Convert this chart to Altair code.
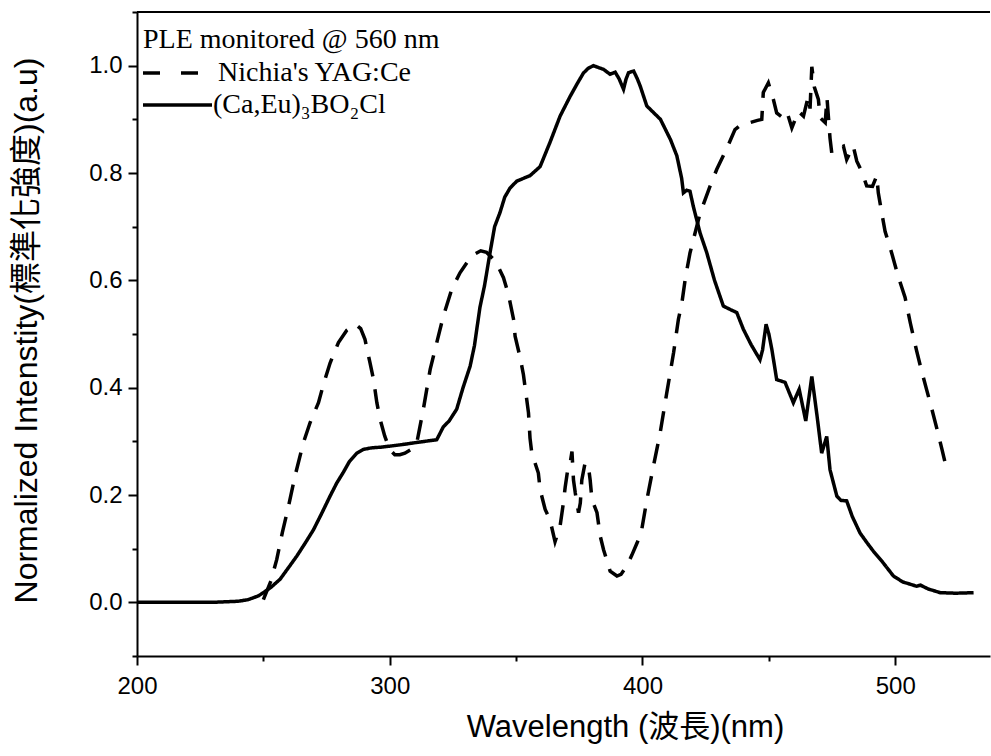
import altair as alt
import pandas as pd

# ---- data ----
series_names = ["Nichia's YAG:Ce", "(Ca,Eu)₃BO₂Cl"]

caeu_nm = [200, 210, 220, 230, 240, 244, 248, 250, 253, 256.6, 260, 263.2, 266.5, 269.8, 273,
           276.4, 279, 281.6, 284, 287, 289.6, 293, 296.2, 300, 305, 309.3, 314, 318.6, 321.2,
           323.5, 326.5, 329, 331.8, 333.5, 335.7, 337.5, 339.7, 341.5, 343.6, 345.5, 347.6,
           350.3, 355.5, 359.5, 363.4, 367.4, 371.4, 374, 376.6, 378.5, 380.6, 384.6, 387.2,
           389.2, 390.8, 392.5, 393.5, 394.5, 396.5, 398, 399.1, 401.7, 404.5, 407.1, 411.1,
           413.6, 415.5, 416.2, 417.5, 418.8, 420.1, 422.8, 425.4, 428.5, 432.0, 435, 437.3,
           439.9, 443, 446.5, 447.5, 448.9, 450, 451.2, 453.1, 456.4, 459.7, 462.0, 464.6,
           467.0, 469, 470.9, 472.9, 474.2, 476.9, 478.5, 480.8, 483, 486.1, 489, 491.4, 495,
           499.3, 503, 508.5, 510, 513, 517.8, 524, 531]
caeu_int = [0.0, 0.0, 0.0, 0.0, 0.002, 0.005, 0.012, 0.018, 0.028, 0.043, 0.065, 0.086, 0.11,
            0.135, 0.165, 0.198, 0.222, 0.242, 0.262, 0.278, 0.285, 0.288, 0.289, 0.291, 0.294,
            0.297, 0.300, 0.303, 0.327, 0.338, 0.36, 0.40, 0.44, 0.478, 0.55, 0.59, 0.652, 0.70,
            0.726, 0.755, 0.772, 0.785, 0.795, 0.812, 0.857, 0.906, 0.943, 0.965, 0.986, 0.995,
            1.0, 0.993, 0.984, 0.988, 0.975, 0.956, 0.975, 0.987, 0.99, 0.975, 0.962, 0.925,
            0.912, 0.90, 0.862, 0.832, 0.79, 0.763, 0.768, 0.766, 0.738, 0.688, 0.652, 0.60,
            0.552, 0.545, 0.54, 0.509, 0.48, 0.452, 0.47, 0.518, 0.50, 0.471, 0.415, 0.41,
            0.372, 0.397, 0.338, 0.421, 0.35, 0.278, 0.309, 0.247, 0.198, 0.19, 0.189, 0.16,
            0.129, 0.11, 0.095, 0.075, 0.049, 0.038, 0.03, 0.032, 0.025, 0.018, 0.017, 0.018]

yag_nm = [250, 253, 255.3, 257.5, 260, 262.5, 265.8, 268.5, 271.8, 274, 276.4, 279.7, 283,
          286.5, 288.5, 290.2, 292.2, 293.6, 294.9, 296.2, 298, 300, 302, 304, 306, 308.5,
          310.7, 313.3, 316, 318.6, 321.2, 324.5, 327.8, 331, 334, 336, 338.3, 341, 343, 345,
          347, 349, 349.6, 351.6, 352.9, 354.2, 354.9, 355.5, 356.2, 358.8, 359.5, 361.5,
          363.4, 365.4, 367.4, 368.7, 369.4, 370.7, 371.4, 372.1, 372.7, 373.4, 374.7, 375.4,
          376.0, 377.3, 378.6, 379.3, 380.0, 382.0, 383.3, 384.6, 387.2, 389.9, 391.5, 393.8,
          395.8, 397.8, 399.5, 401.7, 404.3, 407.0, 409.6, 412.3, 414.2, 415.6, 417, 418.8,
          422.8, 426.7, 429.4, 433.4, 436.6, 439, 442.6, 445.5, 447.2, 447.8, 449.8, 451.8,
          453.1, 455, 457.1, 459.1, 461.7, 463.7, 465.6, 466.3, 467.0, 468, 469.6, 470.3,
          472.3, 473, 474.2, 474.9, 477, 479.5, 480.8, 483.4, 484.8, 487, 488.7, 491, 492.7,
          493.3, 494.7, 496.0, 498.6, 501, 503.9, 506, 508.5, 510.5, 512.5, 514.5, 516.4,
          518.5, 520.5]
yag_int = [0.005, 0.04, 0.08, 0.13, 0.18, 0.235, 0.297, 0.335, 0.372, 0.41, 0.446, 0.484,
           0.507, 0.518, 0.510, 0.49, 0.446, 0.415, 0.372, 0.341, 0.31, 0.285, 0.275, 0.275,
           0.278, 0.285, 0.297, 0.36, 0.434, 0.484, 0.533, 0.583, 0.614, 0.636, 0.65, 0.655,
           0.652, 0.64, 0.625, 0.605, 0.573, 0.527, 0.496, 0.456, 0.424, 0.378, 0.353, 0.306,
           0.278, 0.241, 0.21, 0.173, 0.154, 0.113, 0.142, 0.185, 0.214, 0.256, 0.26, 0.281,
           0.228, 0.204, 0.167, 0.185, 0.228, 0.26, 0.253, 0.228, 0.192, 0.167, 0.123, 0.098,
           0.058, 0.049, 0.052, 0.068, 0.088, 0.11, 0.13, 0.19, 0.253, 0.316, 0.39, 0.465,
           0.527, 0.558, 0.605, 0.651, 0.725, 0.775, 0.807, 0.846, 0.881, 0.89, 0.894, 0.898,
           0.90, 0.95, 0.968, 0.937, 0.912, 0.905, 0.915, 0.884, 0.915, 0.906, 0.943, 0.92,
           0.998, 0.96, 0.937, 0.903, 0.894, 0.94, 0.865, 0.837, 0.845, 0.85, 0.825, 0.85,
           0.822, 0.80, 0.776, 0.775, 0.795, 0.763, 0.725, 0.691, 0.651, 0.61, 0.568, 0.52,
           0.468, 0.43, 0.395, 0.36, 0.325, 0.285, 0.245]

x_ticks = [200, 250, 300, 350, 400, 450, 500]
y_ticks = [-0.1, 0.0, 0.1, 0.2, 0.3, 0.4, 0.5, 0.6, 0.7, 0.8, 0.9, 1.0, 1.1]
x_domain = [200, 537.5]
y_domain = [-0.1, 1.1]

x_title = "Wavelength (波長)(nm)"
y_title = "Normalized Intenstity(標準化強度)(a.u)"
legend_title = "PLE monitored @ 560 nm"

# ---- tables ----
df = pd.concat([
    pd.DataFrame({"nm": yag_nm, "intensity": yag_int, "sample": series_names[0]}),
    pd.DataFrame({"nm": caeu_nm, "intensity": caeu_int, "sample": series_names[1]}),
], ignore_index=True)
one = pd.DataFrame({"k": [0]})

SANS = "Liberation Sans, Arial, 'Noto Sans CJK TC', sans-serif"
SERIF = "Liberation Serif, 'Times New Roman', 'DejaVu Serif', serif"

W, H = 853, 644
DASH = [20, 13]

x_scale = alt.Scale(domain=x_domain, nice=False, zero=False)
y_scale = alt.Scale(domain=y_domain, nice=False, zero=False)

x_axis = alt.Axis(
    values=x_ticks, format="d", grid=False, labelFlush=False,
    labelExpr="datum.value % 100 == 0 ? datum.label : ''",
    tickSize={"condition": {"test": "datum.value % 100 == 0", "value": 9}, "value": 5},
    tickWidth=2, tickColor="black", domainWidth=2, domainColor="black",
    labelFont=SANS, labelFontSize=24, labelColor="black", labelPadding=9,
    title=x_title, titleFont=SANS, titleFontSize=31, titleFontWeight="normal",
    titleColor="black", titleX=488, titleY=71, titleAlign="center", titleBaseline="middle",
)
y_axis = alt.Axis(
    values=y_ticks, grid=False, labelFlush=False,
    labelExpr="round(datum.value*10) % 2 == 0 ? format(datum.value, '.1f') : ''",
    tickSize={"condition": {"test": "round(datum.value*10) % 2 == 0", "value": 9}, "value": 5},
    tickWidth=2, tickColor="black", domainWidth=2, domainColor="black",
    labelFont=SANS, labelFontSize=24, labelColor="black", labelPadding=6,
    title=y_title, titleFont=SANS, titleFontSize=32, titleFontWeight="normal",
    titleColor="black", titleX=-111, titleY=318, titleAngle=270, titleAlign="center",
    titleBaseline="middle",
)

lines = alt.Chart(df).mark_line(strokeWidth=3.5, color="black").encode(
    x=alt.X("nm:Q", scale=x_scale, axis=x_axis),
    y=alt.Y("intensity:Q", scale=y_scale, axis=y_axis),
    strokeDash=alt.StrokeDash(
        "sample:N",
        scale=alt.Scale(domain=series_names, range=[DASH, [1, 0]]),
        legend=None,
    ),
)

# top frame line of the plot box
frame = alt.Chart(one).mark_rule(strokeWidth=2, color="black").encode(
    x=alt.value(0), x2=alt.value(W), y=alt.value(0),
)

# legend block (inside the top-left corner, as in the reference)
LEG_FS = 28
leg_title = alt.Chart(one).mark_text(
    text=legend_title, align="left", baseline="middle", font=SERIF, fontSize=LEG_FS,
    color="black").encode(x=alt.value(6), y=alt.value(28))
leg_dash = alt.Chart(one).mark_rule(strokeWidth=3.5, color="black", strokeDash=[17, 21]).encode(
    x=alt.value(6), x2=alt.value(64), y=alt.value(61))
leg_dash_txt = alt.Chart(one).mark_text(
    text=series_names[0], align="left", baseline="middle", font=SERIF, fontSize=LEG_FS,
    color="black").encode(x=alt.value(81), y=alt.value(61))
leg_solid = alt.Chart(one).mark_rule(strokeWidth=3.5, color="black").encode(
    x=alt.value(6), x2=alt.value(75), y=alt.value(93))
leg_solid_txt = alt.Chart(one).mark_text(
    text=series_names[1], align="left", baseline="middle", font=SERIF, fontSize=LEG_FS,
    color="black").encode(x=alt.value(76), y=alt.value(93))

chart = alt.layer(
    lines, frame, leg_title, leg_dash, leg_dash_txt, leg_solid, leg_solid_txt
).properties(
    width=W, height=H,
    padding={"left": 137, "top": 12, "right": 1, "bottom": 100},
    autosize=alt.AutoSizeParams(type="none"),
    background="white",
).configure_view(stroke=None)

chart.save("out.html", embed_options={"renderer": "svg", "actions": False})
